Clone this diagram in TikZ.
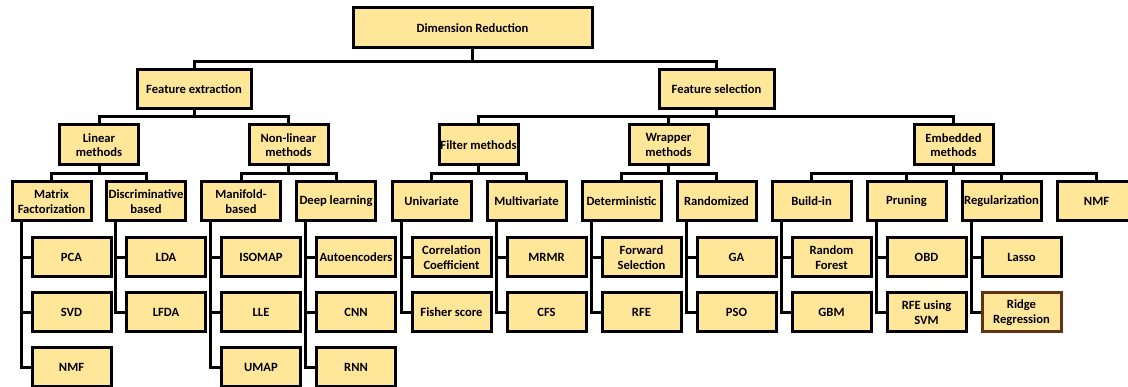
\documentclass[tikz,border=0pt]{standalone}
\usepackage{fontspec}
\setmainfont{Carlito}
\usetikzlibrary{backgrounds}
\definecolor{boxfill}{HTML}{FFE699}
\definecolor{ridgebrown}{RGB}{96,52,20}
\tikzset{
  box/.style={draw=black, line width=3pt, fill=boxfill, minimum width=79pt, minimum height=39pt,
    inner sep=0pt, align=center, font=\bfseries\fontsize{12.6}{14.5}\selectfont},
  conn/.style={draw=black, line width=3pt},
}
\begin{document}
\begin{tikzpicture}[x=1pt,y=-1pt]
\path[use as bounding box] (0,0) rectangle (1128,387);
\clip (0,0) rectangle (1128,387);
% level 0/1
\node[box, minimum width=239pt, minimum height=40pt] (root) at (472.5,28) {Dimension Reduction};
\node[box, minimum width=114pt] (fe) at (194,89.5) {Feature extraction};
\node[box, minimum width=115pt] (fs) at (716.5,89.5) {Feature selection};
% level 2
\node[box, minimum height=40pt] (lin) at (99,145) {Linear\\methods};
\node[box, minimum height=40pt] (nlin) at (288.5,145) {Non-linear\\methods};
\node[box, minimum height=40pt] (filt) at (478.5,145) {Filter methods};
\node[box, minimum height=40pt] (wrap) at (668.5,145) {Wrapper\\methods};
\node[box, minimum height=40pt] (emb) at (953.5,145) {Embedded\\methods};
% level 3
\node[box] (mf) at (51.5,201.5) {Matrix\\Factorization};
\node[box] (disc) at (146,201.5) {Discriminative\\based};
\node[box] (man) at (241,201.5) {Manifold-\\based};
\node[box] (dl) at (336,201.5) {Deep learning};
\node[box] (uni) at (431.5,201.5) {Univariate};
\node[box] (multi) at (526.5,201.5) {Multivariate};
\node[box] (det) at (621.5,201.5) {Deterministic};
\node[box] (rand) at (716.5,201.5) {Randomized};
\node[box] (bi) at (811.5,201.5) {Build-in};
\node[box] (prun) at (906.5,201.5) {Pruning};
\node[box] (reg) at (1001.5,201.5) {Regularization};
\node[box] (nmfb) at (1096.5,201.5) {NMF};
% leaves
\node[box] (pca) at (71.5,257.5) {PCA};
\node[box] (svd) at (71.5,312.5) {SVD};
\node[box] (nmfa) at (71.5,367.5) {NMF};
\node[box] (lda) at (166,257.5) {LDA};
\node[box] (lfda) at (166,312.5) {LFDA};
\node[box] (iso) at (261,257.5) {ISOMAP};
\node[box] (lle) at (261,312.5) {LLE};
\node[box] (umap) at (261,367.5) {UMAP};
\node[box] (ae) at (356,257.5) {Autoencoders};
\node[box] (cnn) at (356,312.5) {CNN};
\node[box] (rnn) at (356,367.5) {RNN};
\node[box] (cc) at (451.5,257.5) {Correlation\\Coefficient};
\node[box] (fish) at (451.5,312.5) {Fisher score};
\node[box] (mrmr) at (546.5,257.5) {MRMR};
\node[box] (cfs) at (546.5,312.5) {CFS};
\node[box] (fwd) at (641.5,257.5) {Forward\\Selection};
\node[box] (rfe) at (641.5,312.5) {RFE};
\node[box] (ga) at (736.5,257.5) {GA};
\node[box] (pso) at (736.5,312.5) {PSO};
\node[box] (rf) at (831.5,257.5) {Random\\Forest};
\node[box] (gbm) at (831.5,312.5) {GBM};
\node[box] (obd) at (926.5,257.5) {OBD};
\node[box] (rfesvm) at (926.5,312.5) {RFE using\\SVM};
\node[box] (lasso) at (1021.5,257.5) {Lasso};
\node[box, draw=ridgebrown] (ridge) at (1021.5,312.5) {Ridge\\Regression};
\begin{scope}[on background layer]
% tree connectors
\foreach \p/\c/\y in {root/fe/62, root/fs/62,
  fe/lin/117, fe/nlin/117, fs/filt/117, fs/wrap/117, fs/emb/117,
  lin/mf/174, lin/disc/174, nlin/man/174, nlin/dl/174,
  filt/uni/174, filt/multi/174, wrap/det/174, wrap/rand/174,
  emb/bi/174, emb/prun/174, emb/reg/174, emb/nmfb/174}
  \draw[conn] (\p.south) -- (\p.south |- 0,\y) -| (\c.north);
% leaf connectors
\foreach \p/\c in {mf/pca, mf/svd, mf/nmfa, disc/lda, disc/lfda,
  man/iso, man/lle, man/umap, dl/ae, dl/cnn, dl/rnn,
  uni/cc, uni/fish, multi/mrmr, multi/cfs, det/fwd, det/rfe,
  rand/ga, rand/pso, bi/rf, bi/gbm, prun/obd, prun/rfesvm,
  reg/lasso, reg/ridge}
  \draw[conn] ([xshift=-30.5pt]\p.south) |- (\c.west);
\end{scope}
\end{tikzpicture}
\end{document}
